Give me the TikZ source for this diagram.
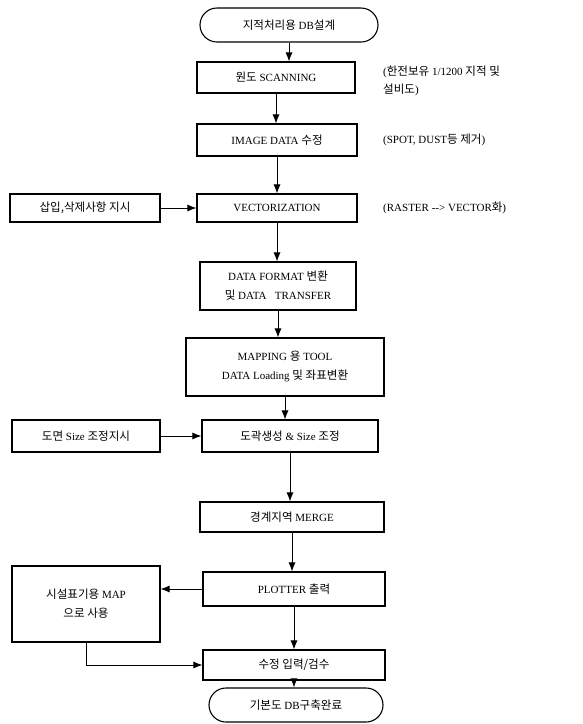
\documentclass[tikz,border=0pt]{standalone}
\usepackage{fontspec}
\setmainfont{Liberation Serif}
\newfontfamily\hgfont{Noto Sans CJK KR}[Scale=1.05]
\newcommand\hg[1]{{\hgfont #1}}
\usetikzlibrary{arrows.meta,shapes.misc}
\tikzset{
  box/.style={draw, line width=1.1pt, inner sep=0pt, align=center, font=\fontsize{11}{19}\selectfont},
  term/.style={rounded rectangle, draw, line width=1.1pt, inner sep=0pt, align=center, font=\fontsize{11}{19}\selectfont},
  note/.style={anchor=west, inner sep=0pt, align=left, font=\fontsize{11}{18}\selectfont},
  arr/.style={-{Latex[length=9pt,width=7pt]}, line width=0.9pt},
}
\begin{document}
\begin{tikzpicture}[x=1pt,y=-1pt]
\fill[white] (0,0) rectangle (582,724);
\useasboundingbox (0,0) rectangle (582,724);

\node[term, minimum width=178pt, minimum height=34pt] (start) at (289,25) {\hg{지적처리용} DB\hg{설계}};
\node[box, minimum width=158pt, minimum height=31pt] (scan) at (276,77.5) {\hg{원도} SCANNING};
\node[box, minimum width=160pt, minimum height=32pt] (image) at (277,140) {IMAGE DATA \hg{수정}};
\node[box, minimum width=160pt, minimum height=28pt] (vect) at (277,208) {VECTORIZATION};
\node[box, minimum width=150pt, minimum height=28pt] (ins) at (85,208) {\hg{삽입,삭제사항 지시}};
\node[box, minimum width=156pt, minimum height=48pt] (fmt) at (278,286) {DATA FORMAT \hg{변환}\\ \hg{및} DATA\ \ \ TRANSFER};
\node[box, minimum width=198pt, minimum height=58pt] (mapping) at (285,367) {MAPPING \hg{용} TOOL\\ DATA Loading \hg{및 좌표변환}};
\node[box, minimum width=176pt, minimum height=32pt] (dokwak) at (290,436) {\hg{도곽생성} \& Size \hg{조정}};
\node[box, minimum width=148pt, minimum height=32pt] (size) at (86,436) {\hg{도면} Size \hg{조정지시}};
\node[box, minimum width=184pt, minimum height=30pt] (merge) at (292,517) {\hg{경계지역} MERGE};
\node[box, minimum width=182pt, minimum height=34pt] (plot) at (294,589) {PLOTTER \hg{출력}};
\node[box, minimum width=148pt, minimum height=76pt] (map) at (86,604) {\hg{시설표기용} MAP\\ \hg{으로 사용}};
\node[box, minimum width=182pt, minimum height=30pt] (suj) at (294,665) {\hg{수정 입력/검수}};
\node[term, minimum width=174pt, minimum height=34pt] (end) at (296,705) {\hg{기본도} DB\hg{구축완료}};

\node[note] (n1) at (383,81) {(\hg{한전보유} 1/1200 \hg{지적 및}\\ \hg{설비도})};
\node[note] (n2) at (383,140) {(SPOT, DUST\hg{등 제거})};
\node[note] (n3) at (383,208) {(RASTER\ -{}-{}>\ VECTOR\hg{화})};

\draw[arr] (start.south) -- (start.south |- scan.north);
\draw[arr] (scan.south) -- (scan.south |- image.north);
\draw[arr] (image.south) -- (image.south |- vect.north);
\draw[arr] (vect.south) -- (vect.south |- fmt.north);
\draw[arr] (fmt.south) -- (fmt.south |- mapping.north);
\draw[arr] (mapping.south) -- (mapping.south |- dokwak.north);
\draw[arr] (dokwak.south) -- (dokwak.south |- merge.north);
\draw[arr] (merge.south) -- (merge.south |- plot.north);
\draw[arr] (plot.south) -- (plot.south |- suj.north);
\draw[arr] (suj.south) -- (suj.south |- end.north);
\draw[arr] (ins.east) -- (ins.east -| vect.west);
\draw[arr] (size.east) -- (size.east -| dokwak.west);
\draw[arr] (plot.west) -- (plot.west -| map.east);
\draw[arr] (map.south) |- (suj.west);
\end{tikzpicture}
\end{document}
